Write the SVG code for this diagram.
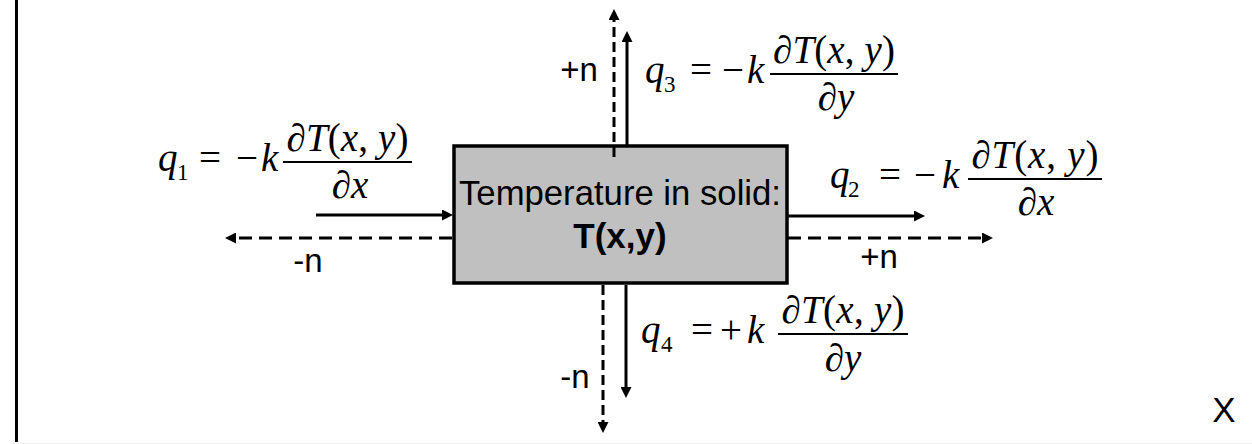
<svg xmlns="http://www.w3.org/2000/svg" width="1252" height="444" viewBox="0 0 1252 444">
<style>
.frame{stroke:#000;stroke-width:3;fill:none}
.box{fill:#c0c0c0;stroke:#000;stroke-width:3.5}
.solid{stroke:#000;stroke-width:3;fill:none}
.dashh{stroke:#000;stroke-width:3;fill:none;stroke-dasharray:13 7}
.dashv{stroke:#000;stroke-width:3;fill:none;stroke-dasharray:10 5}
.lbl{font-family:"Liberation Sans",Arial,sans-serif;font-size:35px;fill:#000}
.n{font-family:"Liberation Sans",Arial,sans-serif;font-size:33px;fill:#000;text-anchor:middle}
.mi{font-family:"Liberation Serif","Times New Roman",serif;font-style:italic;font-size:39px;fill:#000}
.mr{font-family:"Liberation Serif","Times New Roman",serif;font-style:normal;font-size:39px;fill:#000}
.sub{font-family:"Liberation Serif","Times New Roman",serif;font-size:23px;fill:#000}
.it{font-style:italic}
.bar{stroke:#000;stroke-width:1.8}
.mid{text-anchor:middle}
</style>
<defs>
<marker id="ah" viewBox="0 0 11 11" refX="1" refY="5.5" markerWidth="11" markerHeight="11" markerUnits="userSpaceOnUse" orient="auto">
<path d="M0,0 L11,5.5 L0,11 z" fill="#000" stroke="none"/>
</marker>
</defs>
<line class="frame" x1="16.5" y1="0" x2="16.5" y2="442"/>
<line x1="18" y1="443.5" x2="1252" y2="443.5" stroke="#eeeeee" stroke-width="1"/>

<g id="solid-box">
<rect class="box" x="454" y="146" width="333" height="137"/>
<text class="lbl" x="620" y="205" text-anchor="middle" textLength="322" lengthAdjust="spacingAndGlyphs">Temperature in solid:</text>
<text class="lbl" x="620" y="248" text-anchor="middle" font-weight="bold">T(x,y)</text>
</g>

<g id="connectors">
<line class="solid" x1="316" y1="215" x2="443" y2="215" marker-end="url(#ah)"/>
<line class="dashh" x1="452" y1="238" x2="235" y2="238" marker-end="url(#ah)"/>
<line class="solid" x1="788" y1="216" x2="915" y2="216" marker-end="url(#ah)"/>
<line class="dashh" x1="788" y1="238" x2="983" y2="238" marker-end="url(#ah)"/>
<line class="solid" x1="627" y1="145" x2="627" y2="41" marker-end="url(#ah)"/>
<line class="dashv" x1="614" y1="157" x2="614" y2="19" marker-end="url(#ah)"/>
<line class="solid" x1="626" y1="285" x2="626" y2="388" marker-end="url(#ah)"/>
<line class="dashv" x1="603" y1="285" x2="603" y2="423" marker-end="url(#ah)"/>
</g>

<g id="normal-labels">
<text class="n" x="579" y="81">+n</text>
<text class="n" x="308" y="272">-n</text>
<text class="n" x="879" y="268">+n</text>
<text class="n" x="575" y="388">-n</text>
</g>

<g id="q1">
<text class="mi" x="158" y="171">q</text>
<text class="sub" x="177" y="180">1</text>
<text class="mr mid" x="210" y="171">=</text>
<text class="mr mid" x="247" y="171">−</text>
<text class="mi" x="261" y="171">k</text>
<line class="bar" x1="283" y1="162" x2="412" y2="162"/>
<text class="mr mid" x="347.5" y="151" textLength="122" lengthAdjust="spacing">∂<tspan class="it">T</tspan>(<tspan class="it">x</tspan>, <tspan class="it">y</tspan>)</text>
<text class="mr mid" x="350" y="198">∂<tspan class="it">x</tspan></text>
</g>

<g id="q2">
<text class="mi" x="830" y="188">q</text>
<text class="sub" x="848" y="197">2</text>
<text class="mr mid" x="890" y="188">=</text>
<text class="mr mid" x="925" y="188">−</text>
<text class="mi" x="942" y="188">k</text>
<line class="bar" x1="968" y1="179" x2="1102" y2="179"/>
<text class="mr mid" x="1035" y="168" textLength="127" lengthAdjust="spacing">∂<tspan class="it">T</tspan>(<tspan class="it">x</tspan>, <tspan class="it">y</tspan>)</text>
<text class="mr mid" x="1036" y="215">∂<tspan class="it">x</tspan></text>
</g>

<g id="q3">
<text class="mi" x="645" y="83">q</text>
<text class="sub" x="664" y="92">3</text>
<text class="mr mid" x="701" y="83">=</text>
<text class="mr mid" x="733" y="83">−</text>
<text class="mi" x="747" y="83">k</text>
<line class="bar" x1="770" y1="74" x2="898" y2="74"/>
<text class="mr mid" x="834" y="63" textLength="122" lengthAdjust="spacing">∂<tspan class="it">T</tspan>(<tspan class="it">x</tspan>, <tspan class="it">y</tspan>)</text>
<text class="mr mid" x="836" y="110">∂<tspan class="it">y</tspan></text>
</g>

<g id="q4">
<text class="mi" x="641" y="343">q</text>
<text class="sub" x="661" y="352">4</text>
<text class="mr mid" x="702" y="343">=</text>
<text class="mr mid" x="731" y="343">+</text>
<text class="mi" x="747" y="343">k</text>
<line class="bar" x1="778" y1="334" x2="908" y2="334"/>
<text class="mr mid" x="843" y="323" textLength="123" lengthAdjust="spacing">∂<tspan class="it">T</tspan>(<tspan class="it">x</tspan>, <tspan class="it">y</tspan>)</text>
<text class="mr mid" x="843" y="371">∂<tspan class="it">y</tspan></text>
</g>

<g id="axis-label">
<text class="lbl" x="1224" y="422" text-anchor="middle">X</text>
</g>
</svg>
